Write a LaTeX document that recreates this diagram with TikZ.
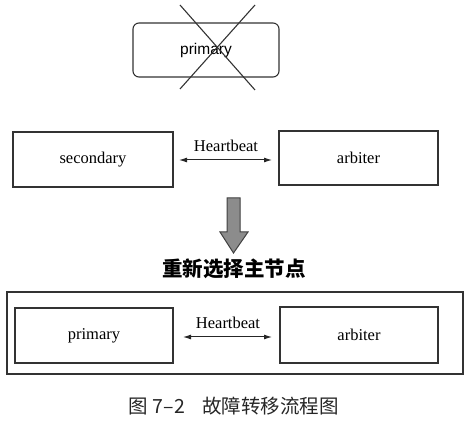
\documentclass[tikz,border=0pt]{standalone}
\usepackage{fontspec}
\setmainfont{Liberation Serif}
\newfontfamily\arialfont{Liberation Sans}
\newfontfamily\cjk{Noto Sans CJK SC}
\usetikzlibrary{arrows.meta}
\begin{document}
\begin{tikzpicture}[x=1pt,y=-1pt,
  box/.style={draw=black!80,line width=1.1pt,inner sep=0pt},
  lbl/.style={font=\fontsize{16.5}{18}\selectfont},
  hb/.style={{Latex[length=8pt,width=5pt]}-{Latex[length=8pt,width=5pt]},line width=1pt,black!85}]
\useasboundingbox (0,0) rectangle (469,422);
% top crossed primary
\node[box,rounded corners=6pt,minimum width=146pt,minimum height=54pt] (p0) at (206,50) {};
\node[font=\arialfont\fontsize{15.5}{18}\selectfont] (p0t) at (p0.center) {primary};
\coordinate (c1) at (180,5); \coordinate (c2) at (255,90);
\coordinate (c3) at (255,5); \coordinate (c4) at (180,89);
\draw[line width=1.1pt,black!80] (c1) -- (c2);
\draw[line width=1.1pt,black!80] (c3) -- (c4);
% second row
\node[box,minimum width=160pt,minimum height=55pt] (sec) at (93,159.5) {};
\node[lbl] at (sec.center) {secondary};
\node[box,minimum width=159pt,minimum height=54pt] (arb1) at (358.5,158) {};
\node[lbl] at (arb1.center) {arbiter};
\coordinate (a1l) at (179,160); \coordinate (a1r) at (272,160);
\draw[hb] (a1l) -- (a1r);
\node[lbl] (hb1) at (226,146) {Heartbeat};
% big arrow
\draw[line width=1pt,black!75,fill=black!45,line join=miter]
  (227,198) -- (240,198) -- (240,232) -- (248,232) -- (233.5,253) -- (220,232) -- (227,232) -- cycle;
\node[font=\cjk\bfseries\fontsize{20.5}{22}\selectfont] (re) at (234,269) {重新选择主节点};
% bottom
\node[box,minimum width=456pt,minimum height=82pt] (outer) at (235,333) {};
\node[box,minimum width=158pt,minimum height=55pt] (pri) at (94,335.5) {};
\node[lbl] at (pri.center) {primary};
\node[box,minimum width=158pt,minimum height=56pt] (arb2) at (359,335) {};
\node[lbl] at (arb2.center) {arbiter};
\coordinate (a2l) at (183,337); \coordinate (a2r) at (272,337);
\draw[hb] (a2l) -- (a2r);
\node[lbl] (hb2) at (228,323) {Heartbeat};
% caption
\node[font=\cjk\fontsize{19.5}{21}\selectfont,black!85] (cap) at (234,406) {图 7–2\hspace{0.9em}故障转移流程图};
\end{tikzpicture}
\end{document}
